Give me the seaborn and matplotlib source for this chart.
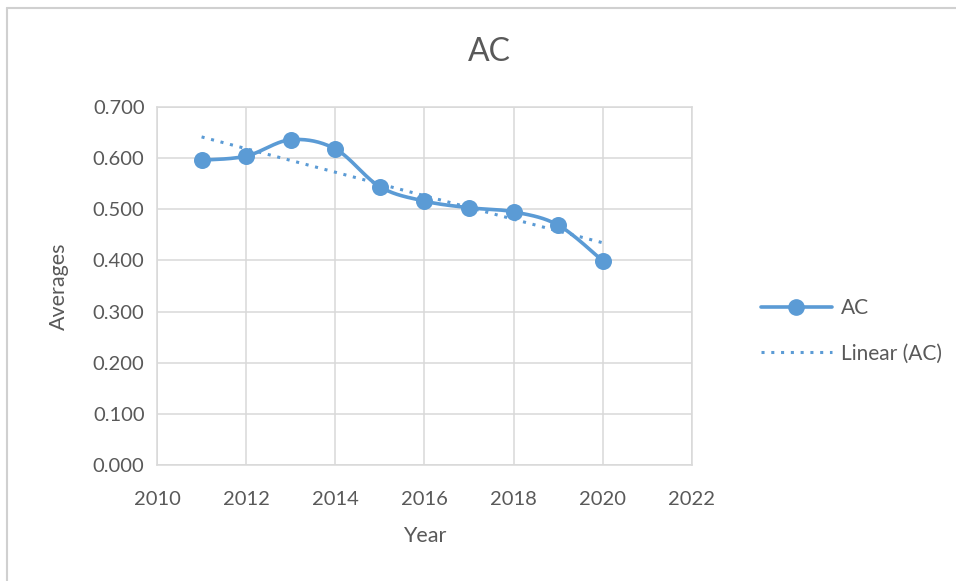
import numpy as np
import pandas as pd
import matplotlib
matplotlib.use("Agg")
import matplotlib.pyplot as plt
from matplotlib.lines import Line2D
import seaborn as sns

years = [2011, 2012, 2013, 2014, 2015, 2016, 2017, 2018, 2019, 2020]
ac_values = [0.596, 0.604, 0.636, 0.618, 0.544, 0.516, 0.503, 0.495, 0.469, 0.399]
y_ticks = [0.0, 0.1, 0.2, 0.3, 0.4, 0.5, 0.6, 0.7]
x_ticks = [2010, 2012, 2014, 2016, 2018, 2020, 2022]

BLUE = "#5B9BD5"
GRID = "#D9D9D9"
TEXT = "#595959"

sns.set_theme(style="white")
plt.rcParams["font.family"] = ["Lato", "DejaVu Sans"]


def smooth_curve(xs, ys, steps=30, tension=1 / 6):
    """Cardinal (Catmull-Rom style) Bezier smoothing through every point."""
    xs = np.asarray(xs, float)
    ys = np.asarray(ys, float)
    n = len(xs)
    px = np.concatenate([[xs[0]], xs, [xs[-1]]])
    py = np.concatenate([[ys[0]], ys, [ys[-1]]])
    out_x, out_y = [], []
    t = np.linspace(0, 1, steps)
    for i in range(n - 1):
        p0x, p0y = px[i + 1], py[i + 1]
        p3x, p3y = px[i + 2], py[i + 2]
        c1x = p0x + (px[i + 2] - px[i]) * tension
        c1y = p0y + (py[i + 2] - py[i]) * tension
        c2x = p3x - (px[i + 3] - px[i + 1]) * tension
        c2y = p3y - (py[i + 3] - py[i + 1]) * tension
        bx = ((1 - t) ** 3) * p0x + 3 * ((1 - t) ** 2) * t * c1x + 3 * (1 - t) * t ** 2 * c2x + t ** 3 * p3x
        by = ((1 - t) ** 3) * p0y + 3 * ((1 - t) ** 2) * t * c1y + 3 * (1 - t) * t ** 2 * c2y + t ** 3 * p3y
        out_x.extend(bx if i == 0 else bx[1:])
        out_y.extend(by if i == 0 else by[1:])
    return np.array(out_x), np.array(out_y)


df = pd.DataFrame({"Year": years, "AC": ac_values})
sx, sy = smooth_curve(years, ac_values)
smooth_df = pd.DataFrame({"Year": sx, "AC": sy})

slope, intercept = np.polyfit(df["Year"], df["AC"], 1)
trend_df = pd.DataFrame({"Year": [years[0], years[-1]]})
trend_df["AC"] = slope * trend_df["Year"] + intercept

fig = plt.figure(figsize=(9.56, 5.81), dpi=100)
ax = fig.add_axes([157 / 956, 1 - 465 / 581, (692 - 157) / 956, (465 - 107) / 581])

sns.lineplot(data=smooth_df, x="Year", y="AC", ax=ax, color=BLUE, linewidth=2.6,
             sort=False, zorder=3)
sns.scatterplot(data=df, x="Year", y="AC", ax=ax, color=BLUE, s=150,
                edgecolor=BLUE, linewidth=0, zorder=4)
sns.lineplot(data=trend_df, x="Year", y="AC", ax=ax, color=BLUE, linewidth=2.2,
             linestyle=(0, (1, 2.2)), zorder=2)

ax.set_xlim(2010, 2022)
ax.set_ylim(0, 0.7)
ax.set_xticks(x_ticks)
ax.set_yticks(y_ticks)
ax.set_yticklabels([f"{v:.3f}" for v in y_ticks])
ax.grid(True, color=GRID, linewidth=1.1)
ax.set_axisbelow(True)
for side in ["top", "right", "bottom", "left"]:
    ax.spines[side].set_visible(True)
    ax.spines[side].set_color(GRID)
    ax.spines[side].set_linewidth(1.1)
ax.tick_params(axis="both", length=0, labelsize=14.5, colors=TEXT)
ax.tick_params(axis="x", pad=19)
ax.tick_params(axis="y", pad=9)
ax.set_xlabel("Year", fontsize=15.5, color=TEXT, labelpad=13)
ax.set_ylabel("Averages", fontsize=15.5, color=TEXT, labelpad=17)
fig.text(489 / 956, 1 - 52 / 581, "AC", fontsize=23, color=TEXT,
         ha="center", va="center")

handles = [
    Line2D([0], [0], color=BLUE, linewidth=2.6, marker="o", markersize=11),
    Line2D([0], [0], color=BLUE, linewidth=2.2, linestyle=(0, (1, 2.2))),
]
fig.legend(handles, ["AC", "Linear (AC)"], loc="center left",
           bbox_to_anchor=(742 / 956, 1 - 331 / 581), frameon=False,
           fontsize=15, labelcolor=TEXT, handlelength=3.4, labelspacing=1.2,
           handletextpad=0.45)

# outer chart frame
fig.add_artist(Line2D([7 / 956, 7 / 956], [0, 1 - 8 / 581], transform=fig.transFigure,
                      color="#D0D0D0", linewidth=1.5))
fig.add_artist(Line2D([7 / 956, 1], [1 - 8 / 581, 1 - 8 / 581], transform=fig.transFigure,
                      color="#D0D0D0", linewidth=1.5))

fig.savefig("out.png", dpi=100)
